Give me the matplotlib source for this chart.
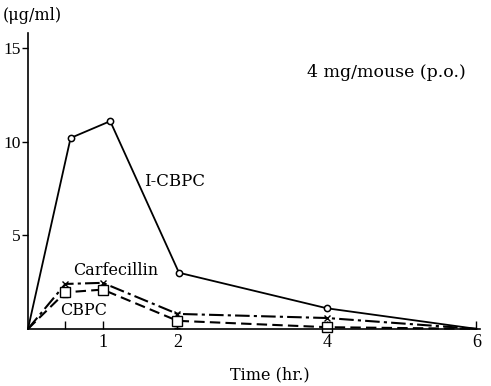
#!/usr/bin/env python3
# -*- coding: utf-8 -*-

import matplotlib
matplotlib.use("Agg")
import matplotlib.pyplot as plt

# ===================== DATA =====================
# I-CBPC (solid, open circles)
t_icbpc = [0.0, 0.57, 1.1, 2.02, 4.0, 6.0]
c_icbpc = [0.0, 10.2, 11.1, 3.0, 1.1, 0.0]

# Carfecillin (dash-dot, x)
t_carf = [0.0, 0.5, 1.0, 2.0, 4.0, 6.0]
c_carf = [0.0, 2.4, 2.46, 0.8, 0.58, 0.0]

# CBPC (dashed, open squares)
t_cbpc = [0.0, 0.5, 1.0, 2.0, 4.0, 6.0]
c_cbpc = [0.0, 1.95, 2.1, 0.43, 0.09, 0.0]
err_cbpc = [0.0, 0.25, 0.25, 0.4, 0.15, 0.0]

xticks = [0.5, 1, 2, 4, 6]
xticklabels = ["", "1", "2", "4", "6"]
yticks = [5, 10, 15]
# ================================================

plt.rcParams["font.family"] = ["Liberation Serif", "DejaVu Serif"]
LABEL_FONT = ["DejaVu Serif"]

fig = plt.figure(figsize=(4.91, 3.86), dpi=100)
ax = fig.add_axes([0.057, 0.148, 0.921, 0.766])

inner = [1, 2, 3, 4]
ax.plot(t_icbpc, c_icbpc, color="black", lw=1.3, marker="o", ms=4.5,
        mfc="white", mec="black", mew=1.1, markevery=inner, clip_on=False)
ax.plot(t_carf, c_carf, color="black", lw=1.5, ls=(0, (7, 2, 1.5, 2)),
        marker="x", ms=4, mew=1.0, markevery=inner, clip_on=False)
ax.errorbar(t_cbpc[1:5], c_cbpc[1:5], yerr=err_cbpc[1:5], fmt="none",
            ecolor="black", elinewidth=1.0, capsize=2)
ax.plot(t_cbpc, c_cbpc, color="black", lw=1.5, ls=(0, (5, 2.5)),
        marker="s", ms=6.5, mfc="white", mec="black", mew=1.0,
        markevery=inner, clip_on=False)

ax.set_xlim(0, 6.05)
ax.set_ylim(0, 15.8)

ax.spines["top"].set_visible(False)
ax.spines["right"].set_visible(False)
ax.spines["left"].set_linewidth(1.2)
ax.spines["bottom"].set_linewidth(1.2)

ax.set_xticks(xticks)
ax.set_xticklabels(xticklabels)
ax.set_yticks(yticks)
ax.tick_params(axis="x", direction="in", length=6, width=1.0, pad=4, labelsize=13)
ax.tick_params(axis="y", direction="out", length=4, width=1.0, pad=1.5, labelsize=12.5)

ax.text(1.55, 7.85, "I-CBPC", fontsize=12, va="center", ha="left", family=LABEL_FONT)
ax.text(0.6, 3.1, "Carfecillin", fontsize=11.5, va="center", ha="left", family=LABEL_FONT)
ax.text(0.43, 1.0, "CBPC", fontsize=11.5, va="center", ha="left", family=LABEL_FONT)
ax.text(3.73, 13.7, "4 mg/mouse (p.o.)", fontsize=12.5, va="center", ha="left", family=LABEL_FONT)

fig.text(0.005, 0.96, "(μg/ml)", fontsize=11.5, va="center", ha="left", family=LABEL_FONT)
fig.text(0.55, 0.028, "Time (hr.)", fontsize=11.5, va="center", ha="center", family=LABEL_FONT)

fig.savefig("out.png", dpi=100)
